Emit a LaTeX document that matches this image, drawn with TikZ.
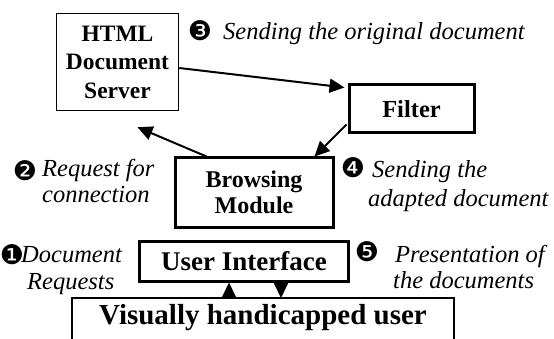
\documentclass[tikz,border=0pt]{standalone}
\usepackage{fontspec}
\setmainfont{Liberation Serif}
\newfontfamily\dingfont{DejaVu Sans}
\usetikzlibrary{arrows.meta,calc}
\begin{document}
\begin{tikzpicture}[x=1pt,y=-1pt,
  box/.style={draw, line width=1.5pt, inner sep=0pt, align=center},
  thickbox/.style={box, line width=3pt},
  lbl/.style={anchor=base west, inner sep=0pt, text height=16pt, text depth=4pt,
              font=\itshape\fontsize{24.5}{28}\selectfont},
  num/.style={inner sep=0pt, font=\dingfont\fontsize{27}{27}\selectfont},
  arr/.style={line width=2pt, -{Triangle[length=15pt,width=14pt]}}]
\useasboundingbox[fill=white] (0,0) rectangle (554,339);

% boxes
\node[box, minimum width=122pt, minimum height=97pt,
      font=\bfseries\fontsize{23.5}{28.5}\selectfont] (server) at (117.5,62) {HTML\\Document\\Server};
\node[thickbox, minimum width=125pt, minimum height=48pt,
      font=\bfseries\fontsize{24.5}{28}\selectfont] (filter) at (411.5,109) {Filter};
\node[thickbox, minimum width=158pt, minimum height=69pt,
      font=\bfseries\fontsize{24}{26}\selectfont] (browse) at (254,192.5) {Browsing\\Module};
\node[thickbox, minimum width=209pt, minimum height=40pt,
      font=\bfseries\fontsize{27}{28}\selectfont] (ui) at (244,261) {User Interface};
\node[inner sep=0pt, font=\bfseries\fontsize{29}{30}\selectfont] (vh) at (263,318) {Visually handicapped user};

% open box of the user
\coordinate (vhl) at (72,298);
\coordinate (vhr) at (454,298);
\draw[line width=1.5pt] (vhl |- 0,339) -- (vhl) -- (vhr) -- (vhr |- 0,339);

% connectors
\draw[arr] ($(server.east)+(0,6)$) -- ($(filter.north west)+(-3,4)$);
\draw[arr] ($(browse.north west)+(33,0)$) -- ($(server.south)+(20,16)$);
\draw[arr] ($(filter.south west)+(-1,-10)$) -- ($(browse.north east)+(-20,0)$);
\coordinate (upx) at (229,298);
\coordinate (dnx) at (281,298);
\draw[arr] (upx) -- (upx |- ui.south);
\draw[arr] (dnx |- ui.south) -- (dnx);

% labels
\node[num] (n3) at (200,31) {❸};
\node[lbl] (l3) at (223,40) {Sending the original document};
\node[num] (n2) at (25,171) {❷};
\node[lbl] (l2a) at (42,177) {Request for};
\node[lbl] (l2b) at (42,203) {connection};
\node[num] (n4) at (353,168) {❹};
\node[lbl] (l4a) at (372,178) {Sending the};
\node[lbl] (l4b) at (368,207) {adapted document};
\node[num] (n1) at (12,255) {❶};
\node[lbl] (l1a) at (21,262) {Document};
\node[lbl] (l1b) at (27,289) {Requests};
\node[num] (n5) at (367,252) {❺};
\node[lbl] (l5a) at (395,262) {Presentation of};
\node[lbl] (l5b) at (393,288) {the documents};
\end{tikzpicture}
\end{document}
